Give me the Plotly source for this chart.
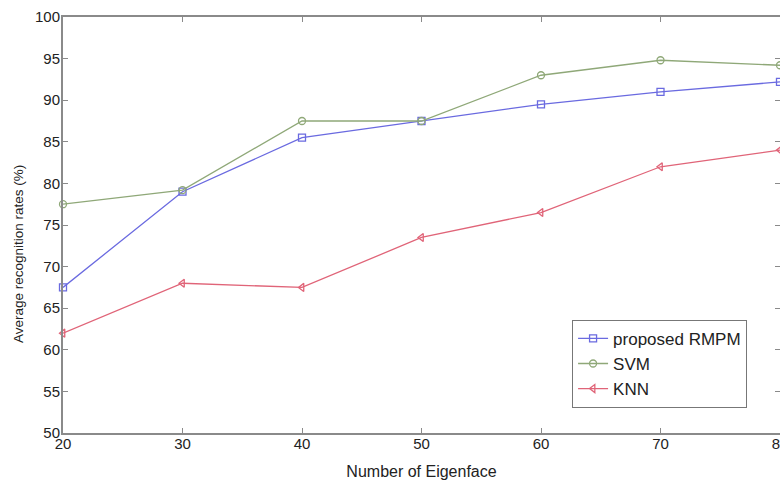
import plotly.graph_objects as go

eigenfaces = [20, 30, 40, 50, 60, 70, 80]
rmpm = [67.5, 79.0, 85.5, 87.5, 89.5, 91.0, 92.2]
svm = [77.5, 79.2, 87.5, 87.5, 93.0, 94.8, 94.2]
knn = [62.0, 68.0, 67.5, 73.5, 76.5, 82.0, 84.0]

series = [
    ("proposed RMPM", rmpm, "#6a6ae0", "square-open"),
    ("SVM", svm, "#8fa878", "circle-open"),
    ("KNN", knn, "#e06478", "triangle-left-open"),
]

fig = go.Figure()
for name, vals, color, sym in series:
    fig.add_trace(go.Scatter(
        x=eigenfaces, y=vals, name=name, mode="lines+markers",
        line=dict(color=color, width=1.3),
        marker=dict(symbol=sym, size=7, color=color, line=dict(color=color, width=1.3)),
        cliponaxis=False,
    ))

FONT = "Liberation Sans, Arial, sans-serif"
axis_common = dict(
    showgrid=False, zeroline=False, showline=True, linecolor="#8a8a8a", linewidth=2,
    mirror="ticks", ticks="inside", ticklen=5, tickcolor="#8a8a8a", automargin=False,
    ticklabeloverflow="allow",
    tickfont=dict(family=FONT, size=15, color="#222"),
)

fig.update_layout(
    width=780, height=486,
    margin=dict(l=63, r=0, t=17, b=53),
    paper_bgcolor="white", plot_bgcolor="white",
    font=dict(family=FONT, size=15, color="#222"),
    xaxis=dict(range=[20, 80], tickvals=[20, 30, 40, 50, 60, 70, 80],
               ticklabelstandoff=-4,
               title=dict(text="Number of Eigenface", standoff=15, font=dict(size=16)),
               **axis_common),
    yaxis=dict(range=[50, 100], tickvals=list(range(50, 101, 5)),
               ticklabelstandoff=-2,
               **axis_common),
    legend=dict(x=0.71, y=0.272, xanchor="left", yanchor="top",
                bgcolor="white", bordercolor="#777", borderwidth=1,
                font=dict(size=17, color="#222")),
    showlegend=True,
    annotations=[dict(
        text="Average recognition rates (%)", textangle=-90,
        xref="paper", yref="paper", x=-0.0628, y=0.43,
        xanchor="center", yanchor="middle", showarrow=False,
        font=dict(family=FONT, size=13.5, color="#222"),
    )],
)

fig.write_html(
    "out.html",
    config={"displayModeBar": False},
    post_script="document.body.style.margin='0';document.body.style.overflow='hidden';",
)
